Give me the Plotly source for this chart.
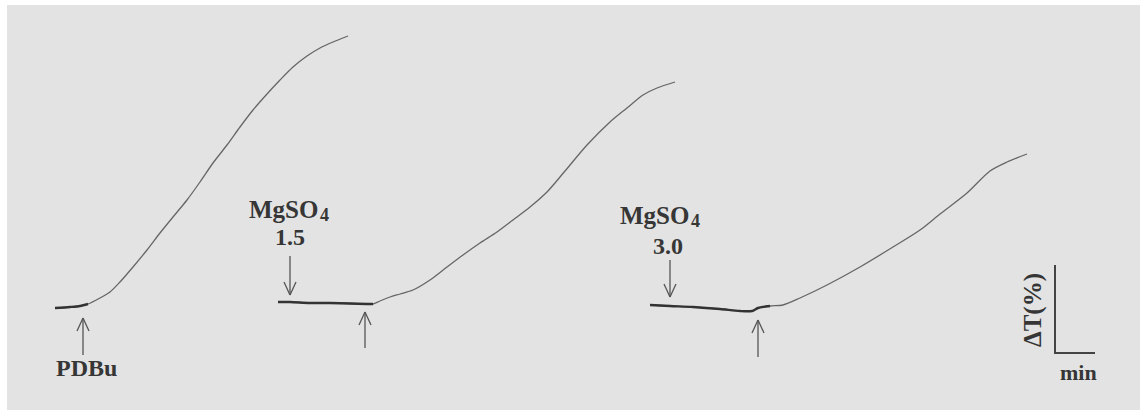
import plotly.graph_objects as go

# ---- data (x: time in px-like units, y: transmittance signal) ----
H = 413
t1_x = [55, 70, 80, 88, 100, 110, 120, 133, 147, 160, 173, 187, 200, 213, 227, 240, 253, 267, 280, 293, 307, 320, 333, 348]
t1_p = [308, 307, 306, 304, 298, 292, 282, 267, 250, 233, 217, 200, 182, 163, 145, 127, 110, 94, 80, 67, 56, 48, 42, 36]

t2_x = [278, 290, 310, 330, 350, 367, 373, 380, 390, 400, 413, 430, 447, 463, 480, 497, 513, 530, 547, 565, 587, 610, 627, 643, 657, 675]
t2_p = [302, 302, 303, 303, 303.5, 304, 304, 301, 297, 294, 290, 280, 267, 255, 243, 232, 220, 207, 192, 171, 145, 122, 108, 95, 88, 82]

t3_x = [650, 670, 693, 720, 740, 752, 758, 770, 783, 800, 827, 860, 893, 920, 940, 967, 990, 1007, 1027]
t3_p = [305, 306, 307, 309, 311, 311, 308, 306, 305, 298, 285, 267, 247, 230, 214, 193, 171, 162, 154]

# baseline (pre-stimulus) segment lengths (number of points)
base_n = [4, 7, 8]

# event arrows: x, tail y, tip y (px-like units)
arrow_x = [83, 290, 365, 670, 758]
arrow_tail = [355, 256, 348, 260, 357]
arrow_tip = [318, 295, 312, 297, 320]

labels = ["PDBu", "1.5", "3.0"]
label_x = [86, 290, 668]
label_y = [368, 237, 246]

salt_text = "MgSO"
salt_sub = "4"
salt_right = [320, 691]
salt_y = [209, 215]

scale_x = [1055, 1055, 1095]
scale_y = [265, 353, 353]

GRAY_LINE = "#666666"
DARK = "#363636"
FONT = "Liberation Serif"

def v(p):
    return [H - q for q in p]

fig = go.Figure()

for xs, ps, n in [(t1_x, t1_p, base_n[0]), (t2_x, t2_p, base_n[1]), (t3_x, t3_p, base_n[2])]:
    fig.add_trace(go.Scatter(x=xs, y=v(ps), mode="lines",
                             line=dict(color=GRAY_LINE, width=1.3, shape="spline", smoothing=0.8),
                             hoverinfo="skip", showlegend=False))
    fig.add_trace(go.Scatter(x=xs[:n], y=v(ps[:n]), mode="lines",
                             line=dict(color="#333333", width=2.4, shape="spline", smoothing=0.8),
                             hoverinfo="skip", showlegend=False))

# scale bar
fig.add_trace(go.Scatter(x=scale_x, y=v(scale_y), mode="lines",
                         line=dict(color="#444444", width=2), hoverinfo="skip", showlegend=False))

shapes = [dict(type="rect", xref="paper", yref="paper", x0=7/1143, x1=1140/1143,
               y0=1 - 410/413, y1=1 - 5/413, fillcolor="#e3e3e3", line=dict(width=0), layer="below")]

for ax, tail, tip in zip(arrow_x, arrow_tail, arrow_tip):
    yt, yh = H - tail, H - tip
    d = 1 if yh > yt else -1
    shapes.append(dict(type="line", x0=ax, x1=ax, y0=yt, y1=yh, line=dict(color="#555555", width=1.3)))
    for s in (-1, 1):
        shapes.append(dict(type="line", x0=ax, x1=ax + s * 6, y0=yh, y1=yh - d * 13,
                           line=dict(color="#555555", width=1.3)))

annotations = []
for txt, lx, ly in zip(labels, label_x, label_y):
    annotations.append(dict(x=lx, y=H - ly, text=txt, showarrow=False,
                            font=dict(family=FONT, size=24, color=DARK, weight="bold"),
                            xanchor="center", yanchor="middle"))
for rx, sy in zip(salt_right, salt_y):
    annotations.append(dict(x=rx, y=H - sy, text=salt_text, showarrow=False,
                            font=dict(family=FONT, size=25, color=DARK, weight="bold"),
                            xanchor="right", yanchor="middle"))
    annotations.append(dict(x=rx - 2, y=H - sy - 6, text=salt_sub, showarrow=False,
                            font=dict(family=FONT, size=18, color=DARK, weight="bold"),
                            xanchor="left", yanchor="middle"))
annotations.append(dict(x=1033, y=H - 310, text="ΔT(%)", showarrow=False, textangle=-90,
                        font=dict(family=FONT, size=25, color=DARK, weight="bold")))
annotations.append(dict(x=1078, y=H - 372, text="min", showarrow=False,
                        font=dict(family=FONT, size=22, color=DARK, weight="bold")))

fig.update_layout(
    width=1143, height=413, margin=dict(l=0, r=0, t=0, b=0),
    paper_bgcolor="white", plot_bgcolor="rgba(0,0,0,0)",
    xaxis=dict(range=[0, 1143], visible=False, fixedrange=True),
    yaxis=dict(range=[0, 413], visible=False, fixedrange=True),
    shapes=shapes, annotations=annotations,
)

fig.write_html("out.html", config={"displayModeBar": False})
